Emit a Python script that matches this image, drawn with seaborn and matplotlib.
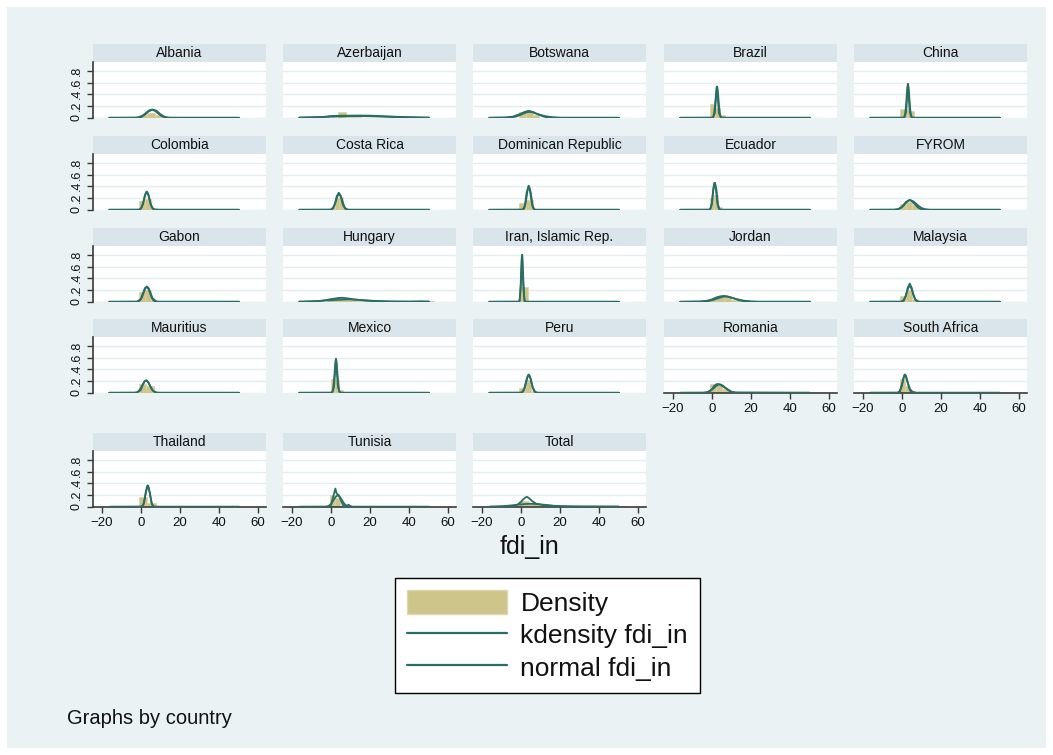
import numpy as np
import pandas as pd
import matplotlib
matplotlib.use("Agg")
import matplotlib.pyplot as plt
import seaborn as sns
from matplotlib.patches import Rectangle, Patch
from matplotlib.lines import Line2D

# ---------------------------------------------------------------- data
countries = [
    "Albania", "Azerbaijan", "Botswana", "Brazil", "China",
    "Colombia", "Costa Rica", "Dominican Republic", "Ecuador", "FYROM",
    "Gabon", "Hungary", "Iran, Islamic Rep.", "Jordan", "Malaysia",
    "Mauritius", "Mexico", "Peru", "Romania", "South Africa",
    "Thailand", "Tunisia", "Total",
]

# histogram bin edges and density heights per panel
hist_edges = [
    [-1, 3, 7, 11],
    [3.5, 7.5, 11.5, 15.5, 36, 40, 44],
    [-1, 2.5, 6, 9.5],
    [-1, 1.5, 4, 6.5],
    [-1, 2.6, 6.2],
    [-1, 2, 5, 8],
    [0, 2, 4, 6, 8],
    [-1, 2.5, 6],
    [-1, 1, 3, 5],
    [-1, 2, 5, 8, 11],
    [-1, 2, 5, 8],
    [-2, 3, 8, 13, 18, 23, 28, 33, 38, 43, 48, 53],
    [-0.5, 3.6],
    [-2, 2, 6, 10, 14, 18],
    [-1, 2, 5, 8],
    [-1, 2.8, 6.6],
    [0, 2, 4, 6],
    [-1, 2, 5, 8],
    [-1, 2, 5, 8, 11],
    [-1, 1.5, 4, 6.5],
    [-1, 3.3, 7.6],
    [-0.5, 2, 4.5, 7, 9.5],
    [-16, -11, -6, -1, 4, 9, 14, 19, 24, 29, 34, 39, 44, 49, 54],
]
hist_heights = [
    [0.05, 0.08, 0.04],
    [0.09, 0.02, 0.01, 0.0, 0.01, 0.01],
    [0.10, 0.12, 0.04],
    [0.24, 0.16, 0.04],
    [0.15, 0.12],
    [0.15, 0.18, 0.03],
    [0.05, 0.20, 0.22, 0.03],
    [0.12, 0.16],
    [0.20, 0.25, 0.05],
    [0.10, 0.14, 0.08, 0.02],
    [0.17, 0.20, 0.03],
    [0.04, 0.07, 0.03, 0.02, 0.01, 0.0, 0.0, 0.0, 0.0, 0.0, 0.02],
    [0.25],
    [0.05, 0.10, 0.08, 0.03, 0.01],
    [0.10, 0.20, 0.05],
    [0.15, 0.12],
    [0.24, 0.22, 0.04],
    [0.08, 0.22, 0.03],
    [0.15, 0.14, 0.06, 0.02],
    [0.24, 0.12, 0.03],
    [0.17, 0.07],
    [0.20, 0.15, 0.03, 0.02],
    [0.002, 0.003, 0.01, 0.10, 0.06, 0.02, 0.008, 0.004, 0.003, 0.002, 0.002, 0.003, 0.003, 0.005],
]

# kernel density curves (x, density)
kde_x = [
    [-16, -2, 0, 2, 4, 6, 8, 10, 12, 14, 50],
    [-16, -5, 0, 5, 10, 15, 20, 25, 30, 35, 40, 45, 50],
    [-16, -8, -4, 0, 2, 4, 6, 8, 12, 16, 20, 50],
    [-16, 0.5, 1.5, 2.6, 3.6, 4.6, 50],
    [-16, 1.2, 2.2, 3.1, 4.0, 5.0, 50],
    [-16, -1, 0, 1, 2, 3, 4, 5, 6, 7, 50],
    [-16, 0, 1, 2, 3, 4, 5, 6, 7, 8, 50],
    [-16, 1, 2, 3, 4, 5, 6, 7, 50],
    [-16, -1, 0, 0.7, 1.5, 2.3, 3, 4, 50],
    [-16, -4, -2, 0, 2, 4, 6, 8, 10, 12, 14, 50],
    [-16, -2, 0, 1, 2, 3, 4, 5, 6, 8, 50],
    [-16, -8, -4, 0, 4, 6, 8, 12, 16, 20, 26, 30, 40, 46, 50],
    [-16, -0.7, 0, 0.6, 1.2, 1.9, 50],
    [-16, -6, -2, 0, 2, 4, 6, 8, 10, 12, 16, 20, 24, 50],
    [-16, 0, 1, 2, 3, 4, 5, 6, 7, 8, 50],
    [-16, -2, 0, 1, 2, 3, 4, 5, 6, 8, 50],
    [-16, 0.6, 1.6, 2.6, 3.6, 4.6, 50],
    [-16, 0, 1, 2, 3, 4, 5, 6, 7, 8, 50],
    [-16, -4, -2, 0, 1, 2, 3, 4, 5, 6, 8, 10, 12, 50],
    [-16, -2, -1, 0, 1, 1.5, 2, 3, 4, 5, 6, 7, 50],
    [-16, 0.5, 1.5, 2.5, 3.5, 4.5, 5.5, 6.5, 50],
    [-16, -1, 0, 1, 2.3, 3, 4, 5, 6, 7, 8, 9, 10, 11, 50],
    [-16, -8, -4, -2, 0, 1, 2, 3, 4, 5, 6, 8, 10, 12, 16, 20, 30, 40, 50],
]
kde_y = [
    [0, 0, 0.01, 0.05, 0.11, 0.14, 0.12, 0.06, 0.02, 0, 0],
    [0.002, 0.01, 0.03, 0.035, 0.037, 0.038, 0.036, 0.03, 0.022, 0.015, 0.01, 0.006, 0.003],
    [0, 0.005, 0.02, 0.07, 0.10, 0.12, 0.10, 0.07, 0.03, 0.01, 0, 0],
    [0, 0, 0.08, 0.53, 0.08, 0, 0],
    [0, 0, 0.10, 0.58, 0.10, 0, 0],
    [0, 0, 0.02, 0.10, 0.24, 0.31, 0.24, 0.10, 0.03, 0, 0],
    [0, 0, 0.02, 0.10, 0.23, 0.29, 0.24, 0.10, 0.03, 0, 0],
    [0, 0, 0.07, 0.30, 0.41, 0.30, 0.07, 0, 0],
    [0, 0, 0.10, 0.35, 0.46, 0.35, 0.10, 0, 0],
    [0, 0, 0.01, 0.05, 0.13, 0.17, 0.14, 0.08, 0.03, 0.01, 0, 0],
    [0, 0, 0.05, 0.14, 0.23, 0.26, 0.23, 0.14, 0.06, 0, 0],
    [0, 0.005, 0.02, 0.045, 0.065, 0.068, 0.06, 0.04, 0.025, 0.015, 0.01, 0.005, 0.003, 0.008, 0.005],
    [0, 0, 0.30, 0.80, 0.30, 0, 0],
    [0, 0.005, 0.02, 0.04, 0.07, 0.09, 0.10, 0.09, 0.07, 0.05, 0.02, 0.005, 0, 0],
    [0, 0, 0.02, 0.10, 0.24, 0.31, 0.24, 0.10, 0.03, 0, 0],
    [0, 0, 0.05, 0.14, 0.20, 0.21, 0.17, 0.10, 0.04, 0, 0],
    [0, 0, 0.10, 0.58, 0.10, 0, 0],
    [0, 0, 0.02, 0.10, 0.24, 0.31, 0.24, 0.10, 0.03, 0, 0],
    [0, 0, 0.01, 0.06, 0.11, 0.14, 0.15, 0.14, 0.12, 0.10, 0.06, 0.02, 0.005, 0],
    [0, 0, 0.02, 0.12, 0.27, 0.31, 0.28, 0.17, 0.07, 0.03, 0.01, 0, 0],
    [0, 0, 0.05, 0.25, 0.36, 0.25, 0.05, 0, 0],
    [0, 0, 0.02, 0.15, 0.31, 0.22, 0.20, 0.12, 0.04, 0.01, 0.01, 0.035, 0.01, 0, 0],
    [0, 0.005, 0.015, 0.03, 0.08, 0.12, 0.15, 0.17, 0.15, 0.12, 0.09, 0.05, 0.035, 0.025, 0.015, 0.01, 0.006, 0.005, 0.004],
]

# normal density parameters per panel
norm_mean = [5.5, 14, 4.5, 2.6, 3.1, 3.0, 4.2, 4.0, 1.4, 4.0,
             3.0, 8.0, 0.6, 7.0, 4.0, 2.6, 2.6, 4.0, 4.0, 1.6,
             3.5, 3.5, 5.0]
norm_sd = [2.9, 14, 4.0, 0.75, 0.7, 1.3, 1.5, 1.0, 0.87, 2.5,
           1.6, 10, 0.5, 4.5, 1.5, 1.9, 0.7, 1.3, 2.8, 1.3,
           1.1, 2.1, 8.0]

x_ticks = [-20, 0, 20, 40, 60]
y_ticks = [0, 0.2, 0.4, 0.6, 0.8]
y_ticklabels = ["0", ".2", ".4", ".6", ".8"]
legend_labels = ["Density", "kdensity fdi_in", "normal fdi_in"]

# ---------------------------------------------------------------- style
BG = "#EAF2F3"
STRIP = "#D9E5EA"
GRID = "#E4EDEF"
BAR = "#CDC58A"
LINE = "#2A6D63"
AXIS = "#3A3A3A"

sns.set_style("white")
plt.rcParams["font.family"] = ["Liberation Sans", "DejaVu Sans"]

W, H = 1053, 755
fig = plt.figure(figsize=(W / 100, H / 100), dpi=100, facecolor="white")
fig.patches.append(Rectangle((7 / W, 7 / H), (W - 14) / W, (H - 14) / H,
                             transform=fig.transFigure, facecolor=BG,
                             edgecolor="none", zorder=-10))


def rect(x0, y0, w, h):
    return [x0 / W, 1 - (y0 + h) / H, w / W, h / H]


col_left = [93, 283, 473, 664, 854]
row_top = [44, 136, 228, 319, 433]
panel_w, strip_h, plot_h = 173, 18, 56

grid_x = np.linspace(-16.3, 50.3, 700)

for i, name in enumerate(countries):
    r, c = divmod(i, 5)
    x0, y0 = col_left[c], row_top[r]

    # strip with the panel name
    sax = fig.add_axes(rect(x0, y0, panel_w, strip_h))
    sax.set_facecolor(STRIP)
    sax.set_xticks([])
    sax.set_yticks([])
    for s in sax.spines.values():
        s.set_visible(False)
    sax.text(0.5, 0.5, name, ha="center", va="center", fontsize=10,
             color="#111111", transform=sax.transAxes)

    ax = fig.add_axes(rect(x0, y0 + strip_h, panel_w, plot_h))
    ax.set_facecolor("white")

    edges = [float(e) for e in hist_edges[i]]
    heights = hist_heights[i]
    centers = [(a + b) / 2 for a, b in zip(edges[:-1], edges[1:])]
    bins_df = pd.DataFrame({"fdi_in": centers, "density": heights})
    sns.histplot(data=bins_df, x="fdi_in", weights="density", bins=edges,
                 stat="count", color=BAR, alpha=1.0, edgecolor="#D8D2A4",
                 linewidth=0.5, ax=ax, zorder=2)

    m, sd = norm_mean[i], norm_sd[i]
    dens = np.exp(-0.5 * ((grid_x - m) / sd) ** 2) / (sd * np.sqrt(2 * np.pi))
    sns.lineplot(x=grid_x, y=dens, color=LINE, linewidth=1.3, ax=ax, zorder=3)
    sns.lineplot(x=kde_x[i], y=kde_y[i], color=LINE, linewidth=1.3, ax=ax,
                 zorder=4)

    ax.set_xlim(-24.5, 64)
    ax.set_ylim(-0.004, 0.95)
    ax.set_xticks(x_ticks)
    ax.set_yticks(y_ticks)
    ax.set_yticklabels(y_ticklabels, rotation=90, va="center")
    ax.set_xlabel("")
    ax.set_ylabel("")
    ax.grid(axis="y", color=GRID, linewidth=1.0)
    ax.grid(axis="x", visible=False)
    ax.set_axisbelow(True)

    for s in ax.spines.values():
        s.set_visible(False)

    bottom_axis = (r == 3 and c >= 3) or r == 4
    left_axis = c == 0

    ax.tick_params(axis="both", direction="out", length=4.5, width=1,
                   color=AXIS, labelsize=9.5, labelcolor="#111111", pad=3)
    if left_axis:
        ax.spines["left"].set_visible(True)
        ax.spines["left"].set_color(AXIS)
        ax.spines["left"].set_linewidth(1.2)
        ax.tick_params(axis="y", left=True, labelleft=True, labelsize=9)
    else:
        ax.tick_params(axis="y", left=False, labelleft=False)
    if bottom_axis:
        ax.spines["bottom"].set_visible(True)
        ax.spines["bottom"].set_color(AXIS)
        ax.spines["bottom"].set_linewidth(1.2)
        ax.tick_params(axis="x", bottom=True, labelbottom=True)
    else:
        ax.tick_params(axis="x", bottom=False, labelbottom=False)

# axis title and note
fig.text(530 / W, 1 - 547 / H, "fdi_in", ha="center", va="center",
         fontsize=18, color="#111111")
fig.text(67 / W, 1 - 719 / H, "Graphs by country", ha="left", va="center",
         fontsize=14.5, color="#111111")

handles = [
    Patch(facecolor=BAR, edgecolor="#DDD8AE", linewidth=1),
    Line2D([], [], color=LINE, linewidth=1.6),
    Line2D([], [], color=LINE, linewidth=1.6),
]
leg = fig.legend(handles, legend_labels, loc="center",
                 bbox_to_anchor=(547.5 / W, 1 - 635.5 / H), frameon=True,
                 fancybox=False, edgecolor="black", facecolor="white",
                 framealpha=1, fontsize=19, handlelength=3.8,
                 handleheight=1.0, handletextpad=0.5, labelspacing=0.25,
                 borderpad=0.45, borderaxespad=0)
leg.get_frame().set_linewidth(1.0)
for t in leg.get_texts():
    t.set_color("#111111")

fig.savefig("out.png", dpi=100, facecolor="white")
